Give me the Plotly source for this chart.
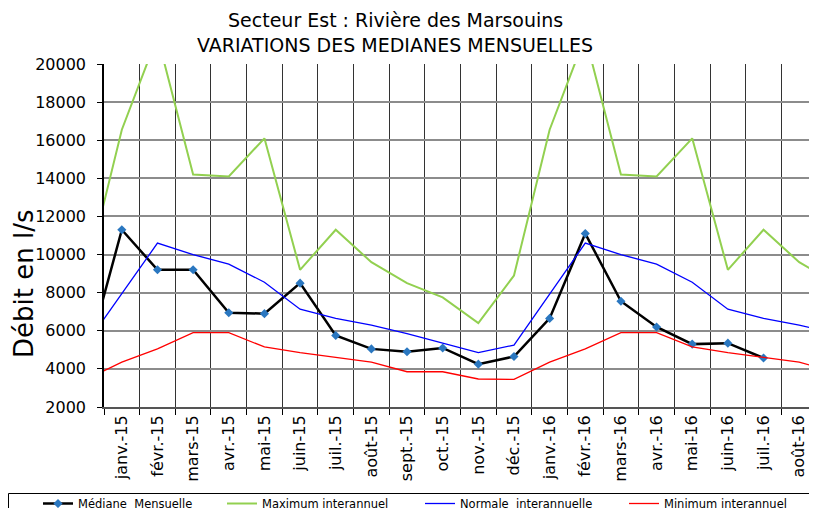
import plotly.graph_objects as go

months = ["déc.-14", "janv.-15", "févr.-15", "mars-15", "avr.-15", "mai-15", "juin-15",
          "juil.-15", "août-15", "sept.-15", "oct.-15", "nov.-15", "déc.-15",
          "janv.-16", "févr.-16", "mars-16", "avr.-16", "mai-16", "juin-16",
          "juil.-16", "août-16", "sept.-16"]

mediane = [4400, 11300, 9200, 9200, 6950, 6900, 8500, 5750, 5050, 4900, 5100, 4250,
           4650, 6650, 11100, 7550, 6200, 5300, 5350, 4570]
maximum = [8900, 16550, 21450, 14200, 14100, 16100, 9200, 11300, 9600, 8500, 7750, 6400,
           8900, 16550, 21450, 14200, 14100, 16100, 9200, 11300, 9600, 8500]
normale = [5300, 7950, 10600, 10000, 9500, 8550, 7130, 6650, 6300, 5850, 5350, 4850,
           5250, 7950, 10600, 10000, 9500, 8550, 7130, 6650, 6300, 5850]
minimum = [3450, 4350, 5050, 5900, 5900, 5150, 4850, 4600, 4350, 3850, 3850, 3470,
           3450, 4350, 5050, 5900, 5900, 5150, 4850, 4600, 4350, 3850]

y_ticks = [2000, 4000, 6000, 8000, 10000, 12000, 14000, 16000, 18000, 20000]
title_lines = ["Secteur Est : Rivière des Marsouins", "VARIATIONS DES MEDIANES MENSUELLES"]

# page has an 8px body margin: figure origin sits at screen (8, 8)
OFF = 8
SW, SH = 817, 508
W, H = SW - OFF, SH - OFF
# screen-space plot area: x 104..817, y 64..407
L_S, R_S, T_S, B_S = 104, 817, 64, 407
ML, MR, MT, MB = L_S - OFF, 0, T_S - OFF, SH - B_S
PW, PH = W - ML - MR, H - MT - MB

def px_x(xs):
    return (xs - OFF - ML) / PW

def px_y(ys):
    return (H - MB - (ys - OFF)) / PH

FONT = "DejaVu Sans"

fig = go.Figure()
fig.add_trace(go.Scatter(
    x=months[:len(mediane)], y=mediane, mode="lines+markers",
    name="Médiane\u00a0 Mensuelle", legend="legend",
    line=dict(color="black", width=2.5),
    marker=dict(symbol="diamond", size=7, color="#2a77c0"),
))
fig.add_trace(go.Scatter(
    x=months, y=maximum, mode="lines", name="Maximum interannuel", legend="legend2",
    line=dict(color="#92d050", width=2),
))
fig.add_trace(go.Scatter(
    x=months, y=normale, mode="lines", name="Normale\u00a0 interannuelle", legend="legend3",
    line=dict(color="#0000ff", width=1.3),
))
fig.add_trace(go.Scatter(
    x=months, y=minimum, mode="lines", name="Minimum interannuel", legend="legend4",
    line=dict(color="#ff0000", width=1.3),
))

leg_common = dict(
    orientation="h", yanchor="top", xanchor="left", y=px_y(489),
    bgcolor="rgba(0,0,0,0)", borderwidth=0,
    font=dict(family=FONT, size=11.5, color="black"),
)
fig.update_layout(
    legend=dict(x=px_x(38), **leg_common),
    legend2=dict(x=px_x(222), **leg_common),
    legend3=dict(x=px_x(420), **leg_common),
    legend4=dict(x=px_x(624), **leg_common),
)

fig.update_layout(
    width=W, height=H,
    margin=dict(l=ML, r=MR, t=MT, b=MB, pad=0, autoexpand=False),
    paper_bgcolor="white", plot_bgcolor="white",
    font=dict(family=FONT, color="black"),
    showlegend=True,
)

fig.update_xaxes(
    type="category", categoryorder="array", categoryarray=months,
    range=[0.5, 20.5], tickson="boundaries",
    showgrid=True, gridcolor="#333333", gridwidth=1.2,
    ticks="outside", ticklen=6, tickcolor="black", tickwidth=1,
    tickangle=-90, tickfont=dict(family=FONT, size=16, color="black"),
    showline=True, linecolor="#555555", linewidth=2,
    zeroline=False, automargin=False,
)
fig.update_yaxes(
    range=[2000, 20000], tickvals=y_ticks, tickformat="d",
    showgrid=True, gridcolor="#8c8c8c", gridwidth=2,
    ticks="outside", ticklen=5, tickcolor="black", tickwidth=1,
    tickfont=dict(family=FONT, size=16, color="black"),
    ticklabelstandoff=8,
    showline=True, linecolor="black", linewidth=1.5,
    zeroline=False, automargin=False,
)

for txt, yc in zip(title_lines, [20, 45]):
    fig.add_annotation(
        text=txt, showarrow=False, xref="paper", yref="paper",
        x=px_x(395), y=px_y(yc), xanchor="center", yanchor="middle",
        font=dict(family=FONT, size=19, color="black"),
    )

fig.add_annotation(
    text="Débit en l/s", textangle=-90, showarrow=False,
    xref="paper", yref="paper", x=px_x(24), y=px_y(284),
    xanchor="center", yanchor="middle",
    font=dict(family=FONT, size=26, color="black"),
)

fig.add_shape(
    type="rect", xref="paper", yref="paper",
    x0=px_x(8.5), x1=px_x(SW + 20), y0=px_y(493.5), y1=px_y(SH + 20),
    line=dict(color="black", width=1), fillcolor="rgba(0,0,0,0)", layer="above",
)

fig.write_html("out.html")
